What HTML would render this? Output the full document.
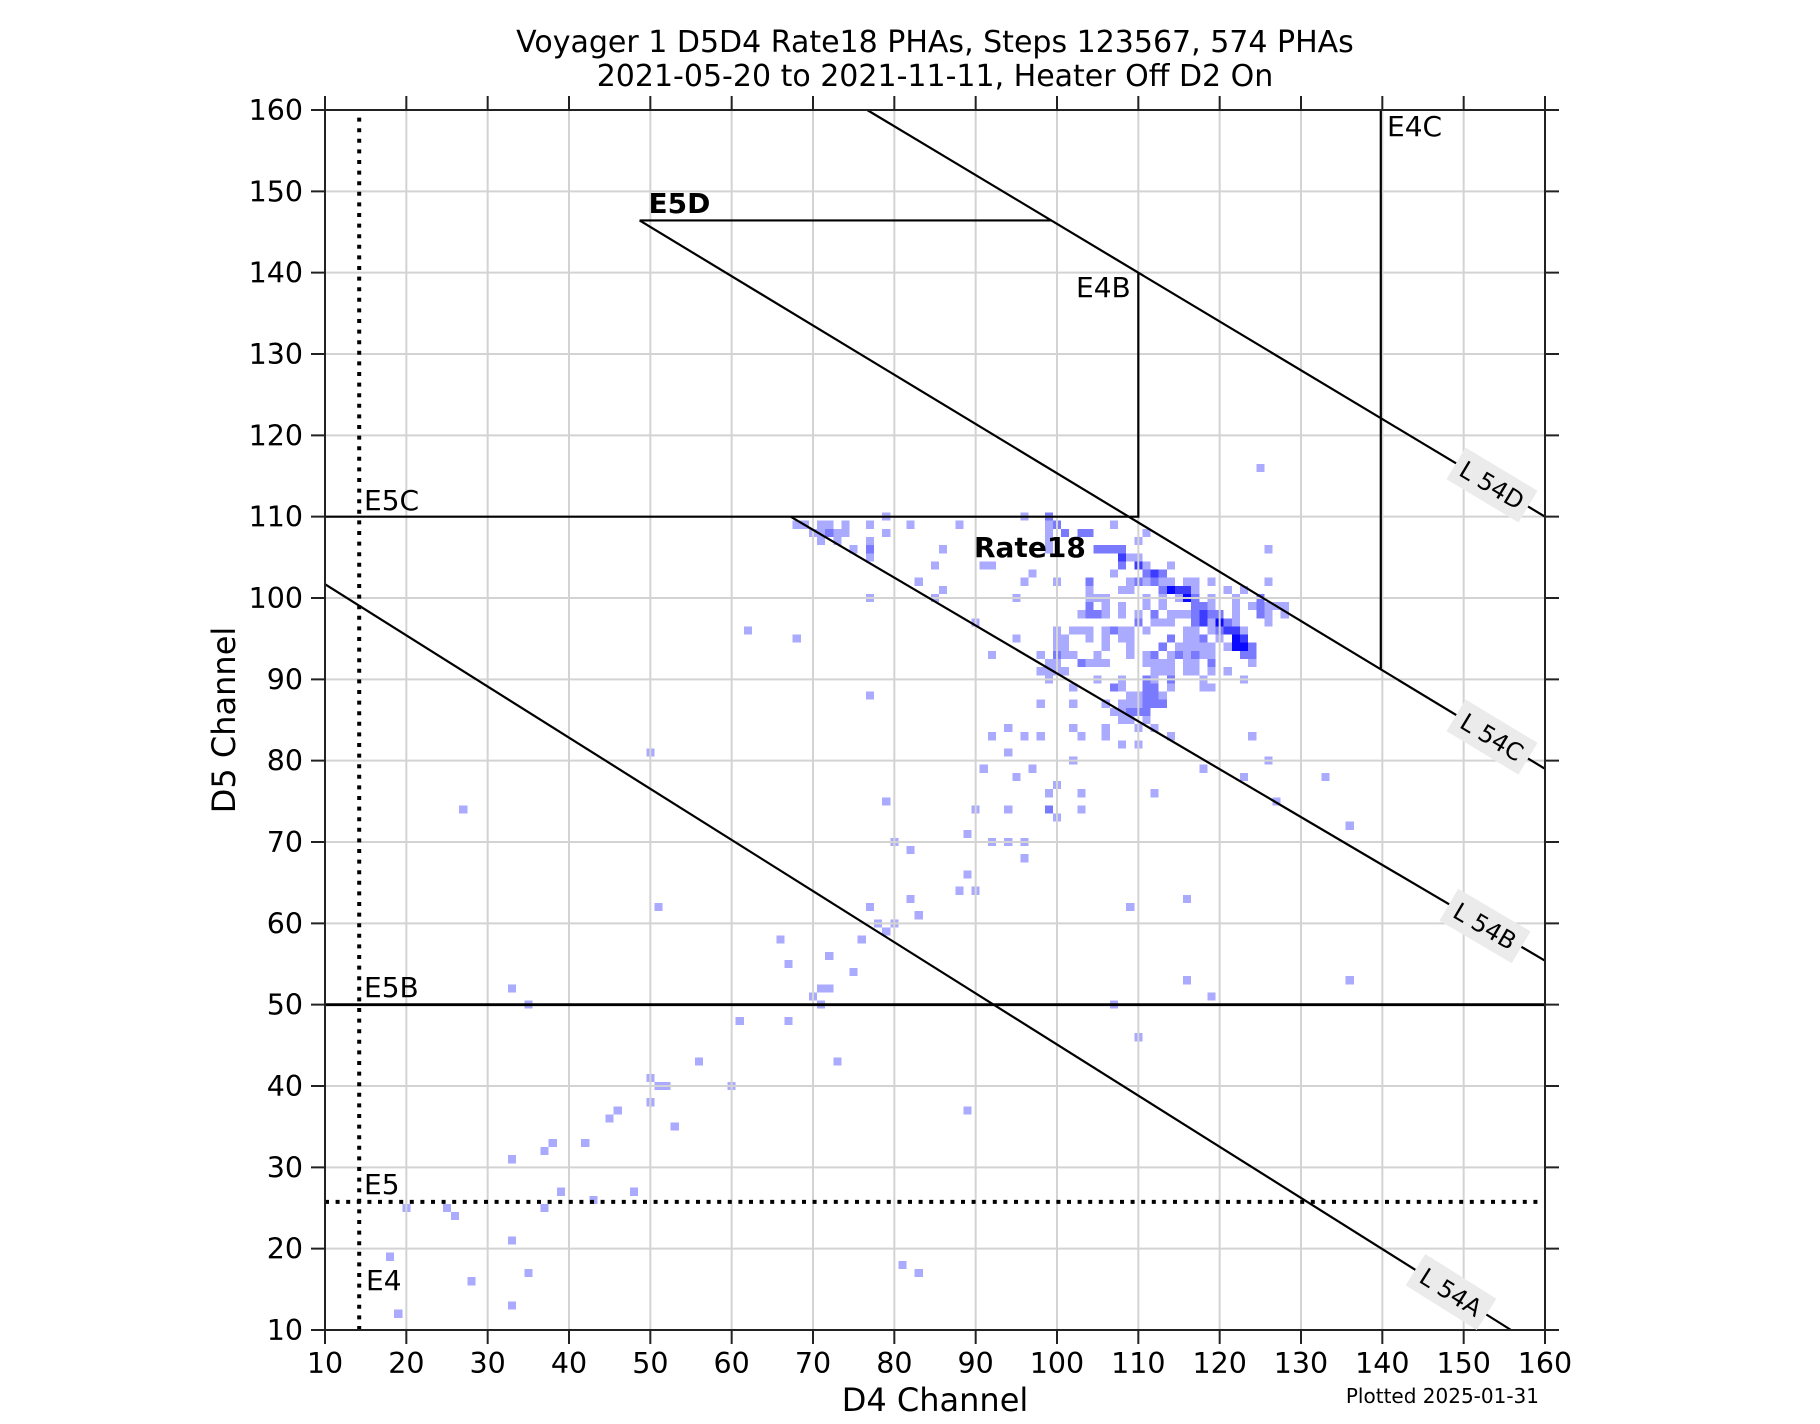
<!DOCTYPE html>
<html><head><meta charset="utf-8"><style>
html,body{margin:0;padding:0;background:#fff;}
svg{display:block;}
text{font-family:"DejaVu Sans","Liberation Sans",sans-serif;fill:#000;}
</style></head><body>
<svg width="1820" height="1424" viewBox="0 0 1820 1424" xmlns="http://www.w3.org/2000/svg">
<rect x="0" y="0" width="1820" height="1424" fill="#fff"/>

<!-- histogram cells: cell (cx,cy) = M cx cy h1v1h-1z -->
<g transform="matrix(8.13333 0 0 -8.13333 239.6 1415.4)" shape-rendering="crispEdges">
<path fill="#aaaaff" d="M68 109h1v1h-1zM69 109h1v1h-1zM70 108h1v1h-1zM71 109h1v1h-1zM72 109h1v1h-1zM71 108h1v1h-1zM73 108h1v1h-1zM73 107h1v1h-1zM74 109h1v1h-1zM74 108h1v1h-1zM71 107h1v1h-1zM75 106h1v1h-1zM77 109h1v1h-1zM77 107h1v1h-1zM77 105h1v1h-1zM79 110h1v1h-1zM79 108h1v1h-1zM82 109h1v1h-1zM88 109h1v1h-1zM86 106h1v1h-1zM85 104h1v1h-1zM83 102h1v1h-1zM86 101h1v1h-1zM85 100h1v1h-1zM77 100h1v1h-1zM91 104h1v1h-1zM92 104h1v1h-1zM95 100h1v1h-1zM90 97h1v1h-1zM68 95h1v1h-1zM95 95h1v1h-1zM92 93h1v1h-1zM77 88h1v1h-1zM94 84h1v1h-1zM92 83h1v1h-1z
M96 110h1v1h-1zM99 109h1v1h-1zM107 109h1v1h-1zM99 108h1v1h-1zM111 108h1v1h-1zM99 107h1v1h-1zM110 107h1v1h-1zM99 106h1v1h-1zM109 105h1v1h-1zM110 105h1v1h-1zM111 104h1v1h-1zM114 104h1v1h-1zM97 103h1v1h-1zM107 103h1v1h-1z
M96 102h1v1h-1zM100 102h1v1h-1zM109 102h1v1h-1zM111 102h1v1h-1zM113 102h1v1h-1zM114 102h1v1h-1zM116 102h1v1h-1zM117 102h1v1h-1zM119 102h1v1h-1zM126 102h1v1h-1z
M104 101h1v1h-1zM108 101h1v1h-1zM109 101h1v1h-1zM117 101h1v1h-1zM121 101h1v1h-1zM123 101h1v1h-1z
M104 100h1v1h-1zM105 100h1v1h-1zM106 100h1v1h-1zM111 100h1v1h-1zM113 100h1v1h-1zM115 100h1v1h-1zM119 100h1v1h-1zM122 100h1v1h-1z
M106 99h1v1h-1zM108 99h1v1h-1zM111 99h1v1h-1zM113 99h1v1h-1zM119 99h1v1h-1zM122 99h1v1h-1zM124 99h1v1h-1zM126 99h1v1h-1zM127 99h1v1h-1zM128 99h1v1h-1z
M103 98h1v1h-1zM106 98h1v1h-1zM108 98h1v1h-1zM110 98h1v1h-1zM114 98h1v1h-1zM115 98h1v1h-1zM116 98h1v1h-1zM122 98h1v1h-1zM126 98h1v1h-1zM128 98h1v1h-1z
M112 97h1v1h-1zM113 97h1v1h-1zM114 97h1v1h-1zM119 97h1v1h-1zM122 97h1v1h-1zM126 97h1v1h-1z
M100 96h1v1h-1zM102 96h1v1h-1zM103 96h1v1h-1zM104 96h1v1h-1zM106 96h1v1h-1zM108 96h1v1h-1zM109 96h1v1h-1zM111 96h1v1h-1zM116 96h1v1h-1zM117 96h1v1h-1zM119 96h1v1h-1zM123 96h1v1h-1z
M100 95h1v1h-1zM101 95h1v1h-1zM104 95h1v1h-1zM106 95h1v1h-1zM108 95h1v1h-1zM109 95h1v1h-1zM116 95h1v1h-1zM117 95h1v1h-1zM120 95h1v1h-1z
M100 94h1v1h-1zM101 94h1v1h-1zM106 94h1v1h-1zM109 94h1v1h-1zM115 94h1v1h-1zM116 94h1v1h-1zM117 94h1v1h-1zM118 94h1v1h-1zM119 94h1v1h-1zM121 94h1v1h-1z
M98 93h1v1h-1zM101 93h1v1h-1zM102 93h1v1h-1zM105 93h1v1h-1zM109 93h1v1h-1zM111 93h1v1h-1zM114 93h1v1h-1zM116 93h1v1h-1zM118 93h1v1h-1zM119 93h1v1h-1z
M99 92h1v1h-1zM100 92h1v1h-1zM104 92h1v1h-1zM105 92h1v1h-1zM106 92h1v1h-1zM111 92h1v1h-1zM112 92h1v1h-1zM113 92h1v1h-1zM114 92h1v1h-1zM116 92h1v1h-1zM117 92h1v1h-1zM124 92h1v1h-1z
M98 91h1v1h-1zM99 91h1v1h-1zM100 91h1v1h-1zM101 91h1v1h-1zM112 91h1v1h-1zM113 91h1v1h-1zM114 91h1v1h-1zM116 91h1v1h-1zM117 91h1v1h-1zM119 91h1v1h-1zM121 91h1v1h-1z
M99 90h1v1h-1zM105 90h1v1h-1zM108 90h1v1h-1zM112 90h1v1h-1zM118 90h1v1h-1zM123 90h1v1h-1z
M102 89h1v1h-1zM108 89h1v1h-1zM114 89h1v1h-1zM118 89h1v1h-1zM119 89h1v1h-1z
M109 88h1v1h-1zM110 88h1v1h-1zM113 88h1v1h-1z
M98 87h1v1h-1zM102 87h1v1h-1zM106 87h1v1h-1zM108 87h1v1h-1zM109 87h1v1h-1zM110 87h1v1h-1z
M107 86h1v1h-1zM108 86h1v1h-1zM108 85h1v1h-1zM109 85h1v1h-1zM111 85h1v1h-1z
M102 84h1v1h-1zM106 84h1v1h-1zM110 84h1v1h-1zM112 84h1v1h-1z
M96 83h1v1h-1zM98 83h1v1h-1zM103 83h1v1h-1zM106 83h1v1h-1zM114 83h1v1h-1zM124 83h1v1h-1z
M108 82h1v1h-1zM110 82h1v1h-1zM94 81h1v1h-1zM102 80h1v1h-1zM91 79h1v1h-1zM97 79h1v1h-1zM95 78h1v1h-1zM100 77h1v1h-1zM99 76h1v1h-1zM103 76h1v1h-1zM112 76h1v1h-1zM90 74h1v1h-1zM94 74h1v1h-1zM103 74h1v1h-1zM100 73h1v1h-1zM89 71h1v1h-1zM92 70h1v1h-1zM94 70h1v1h-1zM96 70h1v1h-1zM96 68h1v1h-1zM82 69h1v1h-1zM89 66h1v1h-1zM88 64h1v1h-1zM90 64h1v1h-1zM82 63h1v1h-1zM83 61h1v1h-1zM109 62h1v1h-1zM116 63h1v1h-1zM118 79h1v1h-1z
M125 116h1v1h-1zM126 106h1v1h-1zM126 80h1v1h-1zM123 78h1v1h-1zM127 75h1v1h-1zM133 78h1v1h-1zM136 72h1v1h-1zM80 70h1v1h-1zM79 75h1v1h-1zM77 62h1v1h-1zM78 60h1v1h-1zM79 59h1v1h-1zM80 60h1v1h-1zM76 58h1v1h-1zM66 58h1v1h-1zM67 55h1v1h-1zM72 56h1v1h-1zM75 54h1v1h-1zM71 52h1v1h-1zM72 52h1v1h-1zM70 51h1v1h-1zM71 50h1v1h-1zM51 62h1v1h-1zM116 53h1v1h-1zM119 51h1v1h-1zM136 53h1v1h-1zM107 50h1v1h-1zM110 46h1v1h-1zM33 52h1v1h-1zM35 50h1v1h-1zM61 48h1v1h-1zM67 48h1v1h-1zM56 43h1v1h-1zM73 43h1v1h-1zM50 41h1v1h-1zM51 40h1v1h-1zM52 40h1v1h-1zM60 40h1v1h-1zM50 38h1v1h-1zM46 37h1v1h-1zM45 36h1v1h-1zM53 35h1v1h-1zM89 37h1v1h-1zM42 33h1v1h-1zM38 33h1v1h-1zM37 32h1v1h-1zM33 31h1v1h-1zM39 27h1v1h-1zM48 27h1v1h-1zM43 26h1v1h-1zM20 25h1v1h-1zM25 25h1v1h-1zM26 24h1v1h-1zM37 25h1v1h-1zM33 21h1v1h-1zM18 19h1v1h-1zM35 17h1v1h-1zM28 16h1v1h-1zM81 18h1v1h-1zM83 17h1v1h-1zM33 13h1v1h-1zM19 12h1v1h-1zM62 96h1v1h-1zM50 81h1v1h-1zM27 74h1v1h-1z"/>
<path fill="#7a7aff" d="M99 110h1v1h-1zM100 109h1v1h-1zM101 108h1v1h-1zM103 108h1v1h-1zM104 108h1v1h-1zM105 106h1v1h-1zM106 106h1v1h-1zM107 106h1v1h-1zM108 106h1v1h-1zM108 104h1v1h-1zM111 103h1v1h-1zM113 103h1v1h-1zM104 102h1v1h-1zM110 102h1v1h-1zM112 102h1v1h-1zM113 101h1v1h-1zM117 100h1v1h-1zM125 100h1v1h-1zM104 99h1v1h-1zM117 99h1v1h-1zM118 99h1v1h-1zM125 99h1v1h-1zM104 98h1v1h-1zM105 98h1v1h-1zM112 98h1v1h-1zM117 98h1v1h-1zM119 98h1v1h-1zM120 98h1v1h-1zM125 98h1v1h-1zM110 97h1v1h-1zM117 97h1v1h-1zM121 97h1v1h-1zM107 96h1v1h-1zM120 96h1v1h-1zM114 95h1v1h-1zM118 95h1v1h-1zM113 94h1v1h-1zM124 94h1v1h-1zM100 93h1v1h-1zM112 93h1v1h-1zM115 93h1v1h-1zM117 93h1v1h-1zM123 93h1v1h-1zM124 93h1v1h-1zM103 92h1v1h-1zM119 92h1v1h-1zM111 90h1v1h-1zM114 90h1v1h-1zM107 89h1v1h-1zM111 89h1v1h-1zM112 89h1v1h-1zM111 88h1v1h-1zM112 88h1v1h-1zM111 87h1v1h-1zM112 87h1v1h-1zM113 87h1v1h-1zM109 86h1v1h-1zM110 86h1v1h-1zM111 86h1v1h-1zM72 108h1v1h-1zM77 106h1v1h-1zM99 74h1v1h-1z"/>
<path fill="#3c3cff" d="M108 105h1v1h-1zM110 104h1v1h-1zM112 103h1v1h-1zM115 101h1v1h-1zM116 101h1v1h-1zM118 98h1v1h-1zM118 97h1v1h-1zM121 96h1v1h-1zM122 96h1v1h-1zM123 95h1v1h-1z"/>
<path fill="#0a0aff" d="M114 101h1v1h-1zM116 100h1v1h-1zM120 97h1v1h-1zM122 95h1v1h-1zM122 94h1v1h-1zM123 94h1v1h-1z"/>
</g>

<!-- gridlines -->
<path stroke="#d3d3d3" stroke-width="2" fill="none" d="
M406.33 110V1330M487.67 110V1330M569 110V1330M650.33 110V1330M731.67 110V1330M813 110V1330M894.33 110V1330M975.67 110V1330M1057 110V1330M1138.33 110V1330M1219.67 110V1330M1301 110V1330M1382.33 110V1330M1463.67 110V1330
M325 191.33H1545M325 272.67H1545M325 354H1545M325 435.33H1545M325 516.67H1545M325 598H1545M325 679.33H1545M325 760.67H1545M325 842H1545M325 923.33H1545M325 1004.67H1545M325 1086H1545M325 1167.33H1545M325 1248.67H1545"/>

<!-- data lines -->
<g stroke="#000" fill="none" stroke-width="2.2">
<path d="M325 516.67H1138.33V272.67"/>
<path d="M1380.8 110V669.3"/>
<path d="M867.2 110L1545 516.67"/>
<path d="M639.6 220.45H1051.3"/>
<path d="M639.6 220.45L1545 768.8"/>
<path d="M790.7 516.67L1545 960.7"/>
<path d="M325 584.2L1511 1330"/>
<path d="M325 1004.67H1545" stroke-width="2.8"/>
<path d="M325 1201.9H1545" stroke-width="4" stroke-dasharray="4 6.6"/>
<path d="M359.2 1330V110" stroke-width="4" stroke-dasharray="4 6.6"/>
</g>

<!-- spines and ticks -->
<g stroke="#222" stroke-width="2" fill="none">
<rect x="325" y="110" width="1220" height="1220"/>
<path d="M325 96V110M406.33 96V110M487.67 96V110M569 96V110M650.33 96V110M731.67 96V110M813 96V110M894.33 96V110M975.67 96V110M1057 96V110M1138.33 96V110M1219.67 96V110M1301 96V110M1382.33 96V110M1463.67 96V110M1545 96V110"/>
<path d="M325 1330V1344M406.33 1330V1344M487.67 1330V1344M569 1330V1344M650.33 1330V1344M731.67 1330V1344M813 1330V1344M894.33 1330V1344M975.67 1330V1344M1057 1330V1344M1138.33 1330V1344M1219.67 1330V1344M1301 1330V1344M1382.33 1330V1344M1463.67 1330V1344M1545 1330V1344"/>
<path d="M311 110H325M311 191.33H325M311 272.67H325M311 354H325M311 435.33H325M311 516.67H325M311 598H325M311 679.33H325M311 760.67H325M311 842H325M311 923.33H325M311 1004.67H325M311 1086H325M311 1167.33H325M311 1248.67H325M311 1330H325"/>
<path d="M1545 110H1559M1545 191.33H1559M1545 272.67H1559M1545 354H1559M1545 435.33H1559M1545 516.67H1559M1545 598H1559M1545 679.33H1559M1545 760.67H1559M1545 842H1559M1545 923.33H1559M1545 1004.67H1559M1545 1086H1559M1545 1167.33H1559M1545 1248.67H1559M1545 1330H1559"/>
</g>

<!-- y tick labels -->
<g font-size="28.5" text-anchor="end">
<text x="303" y="120">160</text>
<text x="303" y="201.3">150</text>
<text x="303" y="282.7">140</text>
<text x="303" y="364">130</text>
<text x="303" y="445.3">120</text>
<text x="303" y="526.7">110</text>
<text x="303" y="608">100</text>
<text x="303" y="689.3">90</text>
<text x="303" y="770.7">80</text>
<text x="303" y="852">70</text>
<text x="303" y="933.3">60</text>
<text x="303" y="1014.7">50</text>
<text x="303" y="1096">40</text>
<text x="303" y="1177.3">30</text>
<text x="303" y="1258.7">20</text>
<text x="303" y="1340">10</text>
</g>
<!-- x tick labels -->
<g font-size="28.5" text-anchor="middle">
<text x="325" y="1373">10</text>
<text x="406.33" y="1373">20</text>
<text x="487.67" y="1373">30</text>
<text x="569" y="1373">40</text>
<text x="650.33" y="1373">50</text>
<text x="731.67" y="1373">60</text>
<text x="813" y="1373">70</text>
<text x="894.33" y="1373">80</text>
<text x="975.67" y="1373">90</text>
<text x="1057" y="1373">100</text>
<text x="1138.33" y="1373">110</text>
<text x="1219.67" y="1373">120</text>
<text x="1301" y="1373">130</text>
<text x="1382.33" y="1373">140</text>
<text x="1463.67" y="1373">150</text>
<text x="1545" y="1373">160</text>
</g>

<!-- title -->
<text x="935" y="52" font-size="30" text-anchor="middle">Voyager 1 D5D4 Rate18 PHAs, Steps 123567, 574 PHAs</text>
<text x="935" y="86" font-size="30" text-anchor="middle">2021-05-20 to 2021-11-11, Heater Off D2 On</text>

<!-- axis labels -->
<text x="935" y="1411" font-size="32" text-anchor="middle">D4 Channel</text>
<text transform="translate(235,720) rotate(-90)" x="0" y="0" font-size="32" text-anchor="middle">D5 Channel</text>
<text x="1539" y="1403" font-size="20" text-anchor="end">Plotted 2025-01-31</text>

<!-- annotations -->
<g font-size="28">
<text x="1387" y="136">E4C</text>
<text x="1076" y="297">E4B</text>
<text x="364" y="510">E5C</text>
<text x="364" y="997">E5B</text>
<text x="364" y="1194">E5</text>
<text x="366" y="1290">E4</text>
<text x="648.5" y="213" font-weight="bold">E5D</text>
<text x="974" y="557" font-weight="bold">Rate18</text>
</g>

<!-- L labels -->
<g font-size="24" text-anchor="middle">
<g transform="translate(1492,485) rotate(30.96)"><rect x="-42" y="-18.5" width="84" height="37" fill="#ebebeb"/><text x="0" y="8.7">L 54D</text></g>
<g transform="translate(1492,737) rotate(31.2)"><rect x="-42" y="-18.5" width="84" height="37" fill="#ebebeb"/><text x="0" y="8.7">L 54C</text></g>
<g transform="translate(1485,926) rotate(30.5)"><rect x="-42" y="-18.5" width="84" height="37" fill="#ebebeb"/><text x="0" y="8.7">L 54B</text></g>
<g transform="translate(1451,1292) rotate(32.2)"><rect x="-42" y="-18.5" width="84" height="37" fill="#ebebeb"/><text x="0" y="8.7">L 54A</text></g>
</g>
</svg>
</body></html>
